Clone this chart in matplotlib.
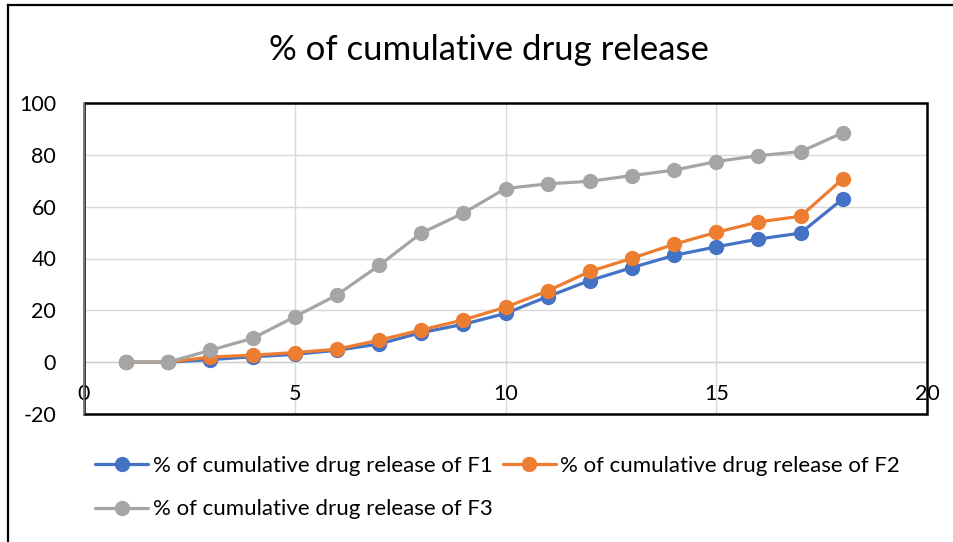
import matplotlib
matplotlib.use("Agg")
import matplotlib.pyplot as plt
from matplotlib.lines import Line2D
from matplotlib.patches import Rectangle

plt.rcParams['font.family'] = ['Lato', 'DejaVu Sans']

x = list(range(1, 19))
f1 = [0, 0, 1.0, 2.1, 3.0, 4.6, 7.0, 11.4, 14.6, 18.8, 25.3, 31.5, 36.5, 41.2, 44.5, 47.5, 49.8, 63.0]
f2 = [0, 0, 2.0, 2.7, 3.7, 5.0, 8.5, 12.4, 16.3, 21.2, 27.5, 35.0, 40.1, 45.5, 50.1, 54.1, 56.3, 70.7]
f3 = [0, 0, 4.6, 9.2, 17.5, 25.9, 37.3, 49.8, 57.5, 67.0, 68.8, 69.8, 72.0, 74.1, 77.4, 79.7, 81.2, 88.5]
labels = ["% of cumulative drug release of F1",
          "% of cumulative drug release of F2",
          "% of cumulative drug release of F3"]
colors = ["#4472C4", "#ED7D31", "#A5A5A5"]
title = "% of cumulative drug release"
x_ticks = [0, 5, 10, 15, 20]
y_ticks = [-20, 0, 20, 40, 60, 80, 100]

W, H = 954, 542
fig = plt.figure(figsize=(W / 100, H / 100), dpi=100)
ax = fig.add_axes([84 / W, 1 - 414 / H, (927 - 84) / W, (414 - 103) / H])

lines = []
for series, lab, col in zip([f1, f2, f3], labels, colors):
    ln, = ax.plot(x, series, color=col, lw=2.3, marker='o', markersize=10,
                  label=lab, solid_capstyle='round', zorder=3)
    lines.append(ln)

for s in ['top', 'right', 'left']:
    ax.spines[s].set_visible(False)
ax.spines['bottom'].set_position(('data', 0))
ax.spines['bottom'].set_color('#d0d0d0')
ax.spines['bottom'].set_linewidth(1.0)

ax.set_xlim(0, 20)
ax.set_ylim(-20, 100)
ax.set_xticks(x_ticks)
ax.set_yticks(y_ticks)
ax.set_xticklabels([str(t) for t in x_ticks], fontsize=15.5)
ax.set_yticklabels([str(t) for t in y_ticks], fontsize=15.5)
ax.tick_params(axis='x', length=0, pad=16, labelsize=15.5)
ax.tick_params(axis='y', length=0, pad=20, labelsize=15.5)
ax.grid(True, color='#d9d9d9', lw=1.0, zorder=0)
ax.set_axisbelow(True)

ax.add_patch(Rectangle((0, 0), 1, 1, transform=ax.transAxes, fill=False,
                       edgecolor='black', lw=1.8, zorder=5, clip_on=False))
ax.add_line(Line2D([0, 0], [0, 1], transform=ax.transAxes, color='#8c8c8c',
                   lw=1.2, zorder=6, clip_on=False))

fig.text(0.5 * (271 + 706) / W, 1 - 50 / H, title, fontsize=25,
         ha='center', va='center')

order = [0, 2, 1]
leg = fig.legend([lines[i] for i in order], [labels[i] for i in order],
                 loc='upper left', ncol=2,
                 bbox_to_anchor=(95 / W, 1 - 456 / H), frameon=False,
                 fontsize=16, handlelength=2.4, handletextpad=0.2,
                 columnspacing=0.45, labelspacing=1.05, borderaxespad=0,
                 borderpad=0)

fig.add_artist(Line2D([8 / W, 1], [1 - 5 / H, 1 - 5 / H], color='black', lw=1.6))
fig.add_artist(Line2D([8 / W, 8 / W], [0, 1 - 5 / H], color='black', lw=1.6))

fig.savefig("out.png", dpi=100)
